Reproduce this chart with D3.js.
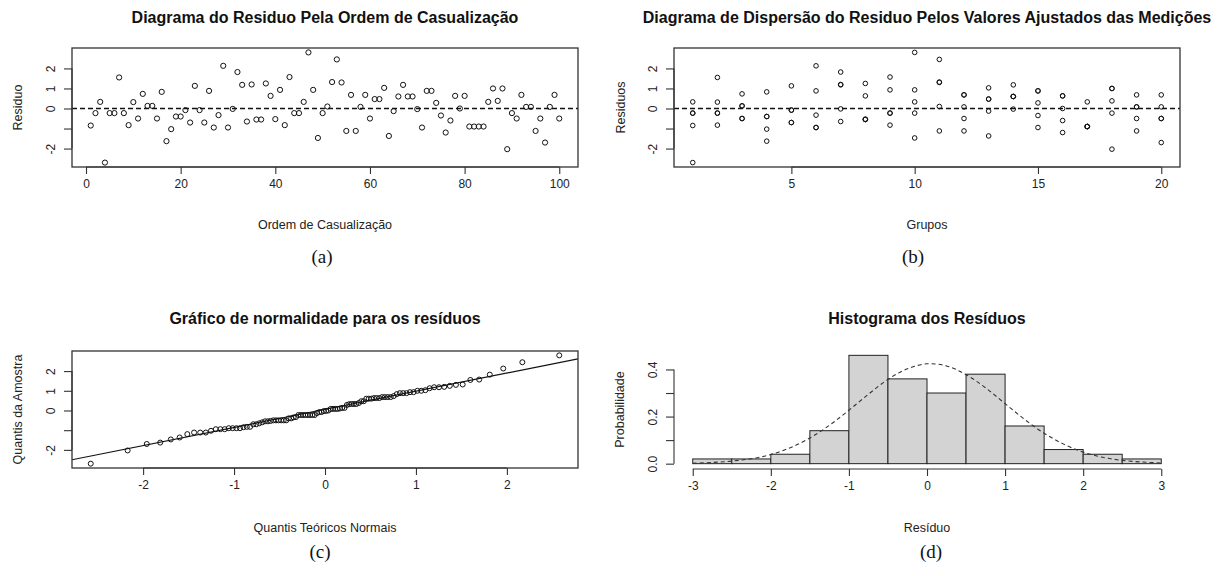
<!DOCTYPE html>
<html>
<head>
<meta charset="utf-8">
<script src="https://cdn.jsdelivr.net/npm/d3@7/dist/d3.min.js"></script>
<style>
  body { margin: 0; background: #fff; }
  svg text { font-family: "Liberation Sans", Arial, sans-serif; fill: #222; }
  .axis path, .axis line { stroke: #333; stroke-width: 1.1; }
  .axis text { font-size: 12px; }
</style>
</head>
<body>
<svg id="fig" width="1219" height="576"></svg>
<script>
const residuos = [
  -0.85, -0.23, 0.33, -2.70, -0.23, -0.23, 1.55, -0.23, -0.83, 0.32,
  -0.50, 0.73, 0.13, 0.13, -0.50, 0.83, -1.63, -1.03, -0.40, -0.40,
  -0.08, -0.70, 1.13, -0.08, -0.70, 0.88, -0.95, -0.33, 2.13, -0.95,
  -0.02, 1.82, 1.18, -0.65, 1.20, -0.55, -0.55, 1.25, 0.63, -0.53,
  0.93, -0.83, 1.57, -0.23, -0.23, 0.33, 2.80, 0.93, -1.47, -0.23,
  0.10, 1.32, 2.45, 1.30, -1.12, 0.68, -1.12, 0.08, 0.68, -0.50,
  0.47, 0.47, 1.03, -1.37, -0.13, 0.60, 1.18, 0.60, 0.60, -0.03,
  -0.95, 0.88, 0.88, 0.28, -0.35, -1.20, -0.60, 0.63, 0.00, 0.63,
  -0.90, -0.90, -0.90, -0.90, 0.33, 1.00, 0.38, 1.00, -2.03, -0.23,
  -0.50, 0.68, 0.08, 0.08, -1.12, -0.50, -1.70, 0.08, 0.68, -0.50
];
// 20 grupos de 5 observações consecutivas
const porGrupo = 5;

// Quebras do histograma
const quebras = [-3, -2.5, -2, -1.5, -1, -0.5, 0, 0.5, 1, 1.5, 2, 2.5, 3];

const curvaX = [-3, -2.75, -2.5, -2.25, -2, -1.75, -1.5, -1.25, -1, -0.75, -0.5, -0.25, 0,
                0.25, 0.5, 0.75, 1, 1.25, 1.5, 1.75, 2, 2.25, 2.5, 2.75, 3];
const curvaY = [0.002, 0.005, 0.011, 0.021, 0.039, 0.068, 0.109, 0.163, 0.227, 0.295, 0.358, 0.403, 0.424,
                0.415, 0.378, 0.322, 0.255, 0.188, 0.129, 0.083, 0.049, 0.027, 0.014, 0.007, 0.003];

// Marcas dos eixos
const ticksOrdem = [0, 20, 40, 60, 80, 100];
const ticksGrupo = [5, 10, 15, 20];
const ticksResid = [-2, -1, 0, 1, 2];
const rotulosResid = ["-2", "", "0", "1", "2"];
const ticksQuantil = [-2, -1, 0, 1, 2];
const ticksHistX = [-3, -2, -1, 0, 1, 2, 3];
const ticksHistY = [0, 0.1, 0.2, 0.3, 0.4];
const rotulosHistY = ["0.0", "", "0.2", "", "0.4"];

const svg = d3.select('#fig');

// Regiões de plotagem (colunas e linhas)
const cols = [{ x0: 72, x1: 578 }, { x0: 674, x1: 1180 }];
const rows = [{ y0: 48, y1: 167 }, { y0: 351, y1: 468 }];

// Expande o domínio em 4% como o R faz
function pad(ext) {
    const d = (ext[1] - ext[0]) * 0.04;
    return [ext[0] - d, ext[1] + d];
}

// Quantil da normal padrão (Acklam)
function qnorm(p) {
    const a = [-3.969683028665376e+01, 2.209460984245205e+02, -2.759285104469687e+02, 1.383577518672690e+02, -3.066479806614716e+01, 2.506628277459239e+00];
    const b = [-5.447609879822406e+01, 1.615858368580409e+02, -1.556989798598866e+02, 6.680131188771972e+01, -1.328068155288572e+01];
    const c = [-7.784894002430293e-03, -3.223964580411365e-01, -2.400758277161838e+00, -2.549732539343734e+00, 4.374664141464968e+00, 2.938163982698783e+00];
    const d = [7.784695709041462e-03, 3.224671290700398e-01, 2.445134137142996e+00, 3.754408661907416e+00];
    const pl = 0.02425;
    if (p < pl) {
        const q = Math.sqrt(-2 * Math.log(p));
        return (((((c[0] * q + c[1]) * q + c[2]) * q + c[3]) * q + c[4]) * q + c[5]) / ((((d[0] * q + d[1]) * q + d[2]) * q + d[3]) * q + 1);
    }
    if (p > 1 - pl) return -qnorm(1 - p);
    const q = p - 0.5, r = q * q;
    return (((((a[0] * r + a[1]) * r + a[2]) * r + a[3]) * r + a[4]) * r + a[5]) * q /
           (((((b[0] * r + b[1]) * r + b[2]) * r + b[3]) * r + b[4]) * r + 1);
}

// Textos comuns a cada painel
function textos(col, row, t) {
    const cx = (col.x0 + col.x1) / 2;
    const cy = (row.y0 + row.y1) / 2;
    svg.append('text')
        .attr('x', cx).attr('y', t.tituloY)
        .attr('text-anchor', 'middle')
        .style('font-size', '16px').style('font-weight', 'bold').style('fill', '#111')
        .text(t.titulo);
    svg.append('text')
        .attr('x', cx).attr('y', t.xlabY)
        .attr('text-anchor', 'middle')
        .style('font-size', '12.5px')
        .text(t.xlab);
    svg.append('text')
        .attr('transform', `translate(${t.ylabX},${cy}) rotate(-90)`)
        .attr('dy', '0.35em')
        .attr('text-anchor', 'middle')
        .style('font-size', '12.5px')
        .text(t.ylab);
    svg.append('text')
        .attr('x', t.capX).attr('y', t.capY)
        .attr('text-anchor', 'middle')
        .style('font-family', '"Liberation Serif", "Times New Roman", serif')
        .style('font-size', '19px').style('fill', '#111')
        .text(t.legenda);
}

// Eixo x ao estilo R: linha só entre a primeira e a última marca
function eixoX(x, ticks, yPos, fmt) {
    const g = svg.append('g')
        .attr('class', 'axis')
        .attr('transform', `translate(0,${yPos})`)
        .call(d3.axisBottom(x).tickValues(ticks).tickSize(7).tickSizeOuter(0)
            .tickFormat(fmt || (d => String(d))));
    g.select('.domain').attr('d', `M${x(ticks[0])},0H${x(ticks[ticks.length - 1])}`);
    g.selectAll('text').attr('y', 21).attr('dy', 0);
    return g;
}

// Eixo y com rótulos girados (las = 0)
function eixoY(y, ticks, xPos, labels) {
    const g = svg.append('g')
        .attr('class', 'axis')
        .attr('transform', `translate(${xPos},0)`)
        .call(d3.axisLeft(y).tickValues(ticks).tickSize(8).tickSizeOuter(0)
            .tickFormat((d, i) => labels[i]));
    g.select('.domain').attr('d', `M0,${y(ticks[0])}V${y(ticks[ticks.length - 1])}`);
    g.selectAll('text')
        .attr('x', null).attr('dy', '0.35em')
        .attr('transform', 'translate(-21,0) rotate(-90)')
        .attr('text-anchor', 'middle');
    return g;
}

function caixa(col, row) {
    svg.append('rect')
        .attr('x', col.x0).attr('y', row.y0)
        .attr('width', col.x1 - col.x0).attr('height', row.y1 - row.y0)
        .attr('fill', 'none').attr('stroke', '#333').attr('stroke-width', 1.3);
}

const yResid = (row) => d3.scaleLinear().domain(pad(d3.extent(residuos))).range([row.y1, row.y0]);

// ---------- (a) Resíduo pela ordem ----------
{
    const col = cols[0], row = rows[0];
    const x = d3.scaleLinear().domain(pad([1, residuos.length])).range([col.x0, col.x1]);
    const y = yResid(row);
    svg.append('line')
        .attr('x1', col.x0).attr('x2', col.x1)
        .attr('y1', y(0)).attr('y2', y(0))
        .attr('stroke', '#111').attr('stroke-width', 1.6).attr('stroke-dasharray', '5,3');
    svg.append('g').selectAll('circle')
        .data(residuos)
        .join('circle')
        .attr('cx', (d, i) => x(i + 1))
        .attr('cy', d => y(d))
        .attr('r', 2.6)
        .attr('fill', 'none').attr('stroke', '#111').attr('stroke-width', 1);
    caixa(col, row);
    eixoX(x, ticksOrdem, row.y1);
    eixoY(y, ticksResid, col.x0, rotulosResid);
    textos(col, row, {
        titulo: 'Diagrama do Residuo Pela Ordem de Casualização', tituloY: 23,
        xlab: 'Ordem de Casualização', xlabY: 229,
        ylab: 'Residuo', ylabX: 18,
        legenda: '(a)', capX: 322, capY: 263
    });
}

// ---------- (b) Resíduo por grupo ----------
{
    const col = cols[1], row = rows[0];
    const nGrupos = residuos.length / porGrupo;
    const x = d3.scaleLinear().domain(pad([1, nGrupos])).range([col.x0, col.x1]);
    const y = yResid(row);
    svg.append('line')
        .attr('x1', col.x0).attr('x2', col.x1)
        .attr('y1', y(0)).attr('y2', y(0))
        .attr('stroke', '#111').attr('stroke-width', 1.6).attr('stroke-dasharray', '5,3');
    svg.append('g').selectAll('circle')
        .data(residuos)
        .join('circle')
        .attr('cx', (d, i) => x(Math.floor(i / porGrupo) + 1))
        .attr('cy', d => y(d))
        .attr('r', 2.3)
        .attr('fill', 'none').attr('stroke', '#111').attr('stroke-width', 1);
    caixa(col, row);
    eixoX(x, ticksGrupo, row.y1);
    eixoY(y, ticksResid, col.x0, rotulosResid);
    textos(col, row, {
        titulo: 'Diagrama de Dispersão do Residuo Pelos Valores Ajustados das Medições', tituloY: 23,
        xlab: 'Grupos', xlabY: 229,
        ylab: 'Residuos', ylabX: 621,
        legenda: '(b)', capX: 913, capY: 263
    });
}

// ---------- (c) Gráfico de normalidade ----------
{
    const col = cols[0], row = rows[1];
    const n = residuos.length;
    const amostra = d3.sort(residuos);
    const teoricos = amostra.map((d, i) => qnorm((i + 1 - 0.5) / n));
    const x = d3.scaleLinear().domain(pad(d3.extent(teoricos))).range([col.x0, col.x1]);
    const y = yResid(row);

    // qqline pelos quartis
    const q1 = d3.quantile(amostra, 0.25), q3 = d3.quantile(amostra, 0.75);
    const slope = (q3 - q1) / (qnorm(0.75) - qnorm(0.25));
    const inter = q1 - slope * qnorm(0.25);
    svg.append('clipPath').attr('id', 'clipc')
        .append('rect')
        .attr('x', col.x0).attr('y', row.y0)
        .attr('width', col.x1 - col.x0).attr('height', row.y1 - row.y0);
    const xd = x.domain();
    svg.append('line')
        .attr('clip-path', 'url(#clipc)')
        .attr('x1', x(xd[0])).attr('y1', y(inter + slope * xd[0]))
        .attr('x2', x(xd[1])).attr('y2', y(inter + slope * xd[1]))
        .attr('stroke', '#111').attr('stroke-width', 1.1);
    svg.append('g').selectAll('circle')
        .data(amostra)
        .join('circle')
        .attr('cx', (d, i) => x(teoricos[i]))
        .attr('cy', d => y(d))
        .attr('r', 2.5)
        .attr('fill', 'none').attr('stroke', '#111').attr('stroke-width', 1);
    caixa(col, row);
    eixoX(x, ticksQuantil, row.y1);
    eixoY(y, ticksResid, col.x0, rotulosResid);
    textos(col, row, {
        titulo: 'Gráfico de normalidade para os resíduos', tituloY: 324,
        xlab: 'Quantis Teóricos Normais', xlabY: 532,
        ylab: 'Quantis da Amostra', ylabX: 18,
        legenda: '(c)', capX: 320, capY: 558
    });
}

// ---------- (d) Histograma ----------
{
    const col = cols[1], row = rows[1];
    const n = residuos.length;
    // classes fechadas à direita, como hist() do R
    const classes = d3.pairs(quebras).map(([a, b], i) => {
        const cnt = residuos.filter(v => (i === 0 ? v >= a : v > a) && v <= b).length;
        return { x0: a, x1: b, dens: cnt / (n * (b - a)) };
    });
    const x = d3.scaleLinear().domain(pad(d3.extent(quebras))).range([col.x0, col.x1]);
    const y = d3.scaleLinear().domain(pad([0, d3.max(classes, d => d.dens)])).range([row.y1, row.y0]);

    svg.append('g').selectAll('rect')
        .data(classes)
        .join('rect')
        .attr('x', d => x(d.x0))
        .attr('y', d => y(d.dens))
        .attr('width', d => x(d.x1) - x(d.x0))
        .attr('height', d => y(0) - y(d.dens))
        .attr('fill', '#d3d3d3')
        .attr('stroke', '#222').attr('stroke-width', 1);

    svg.append('path')
        .datum(curvaX.map((v, i) => [v, curvaY[i]]))
        .attr('d', d3.line().x(d => x(d[0])).y(d => y(d[1])).curve(d3.curveCatmullRom))
        .attr('fill', 'none')
        .attr('stroke', '#333').attr('stroke-width', 1.1).attr('stroke-dasharray', '4,3');

    eixoX(x, ticksHistX, row.y1 + 1);
    eixoY(y, ticksHistY, col.x0, rotulosHistY);
    textos(col, row, {
        titulo: 'Histograma dos Resíduos', tituloY: 324,
        xlab: 'Resíduo', xlabY: 532,
        ylab: 'Probabilidade', ylabX: 620,
        legenda: '(d)', capX: 931, capY: 558
    });
}
</script>
</body>
</html>
